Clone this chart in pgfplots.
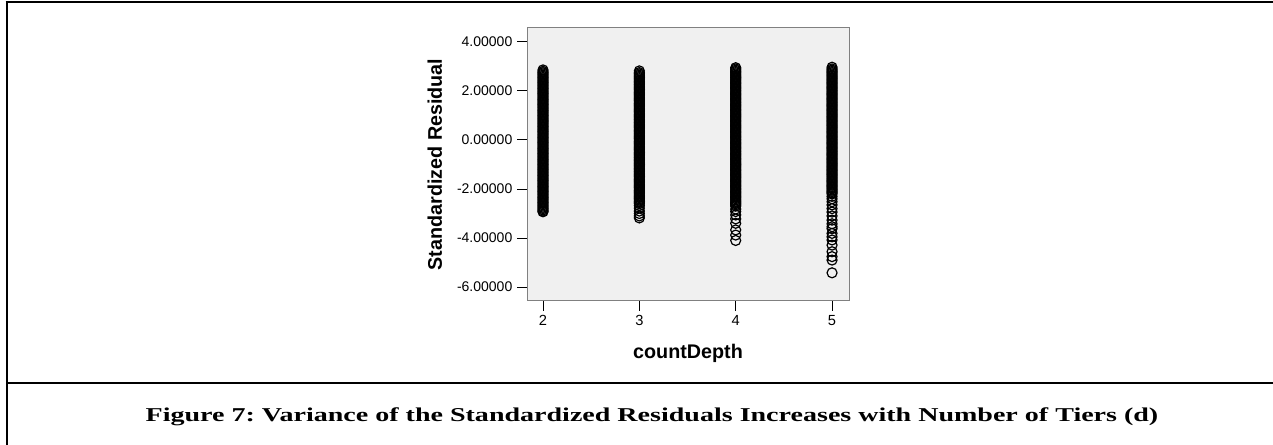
\documentclass[border=0pt]{standalone}
\usepackage{fontspec}
\setmainfont{Liberation Sans}
\newfontfamily\capfont{Liberation Serif}
\usepackage{graphicx}
\usepackage{pgfplots}
\pgfplotsset{compat=1.18}
\definecolor{bgc}{HTML}{F0F0F0}
\definecolor{framec}{HTML}{808080}
\begin{document}
\frenchspacing
\begin{tikzpicture}
\useasboundingbox (0,0) rectangle (954.75pt,333.75pt);
\draw[line width=1.5pt] (5pt,0) -- (5pt,332pt);
\draw[line width=1.5pt] (4.25pt,332pt) -- (954.75pt,332pt);
\draw[line width=1.5pt] (5pt,46.7pt) -- (954.75pt,46.7pt);
\node[anchor=base, font=\capfont\bfseries\fontsize{14.7}{17}\selectfont] at (489pt,17.25pt) {\scalebox{1.43}[1]{Figure 7: Variance of the Standardized Residuals Increases with Number of Tiers (d)}};
\begin{axis}[
  at={(395.25pt,108pt)}, anchor=south west,
  scale only axis, width=241.5pt, height=204.75pt,
  xmin=1.834, xmax=5.176, ymin=-6.57, ymax=4.57,
  axis background/.style={fill=bgc},
  axis line style={framec, line width=0.75pt},
  xtick={2,3,4,5}, xticklabels={2,3,4,5},
  ytick={-6,-4,-2,0,2,4},
  yticklabels={-6.00000,-4.00000,-2.00000,0.00000,2.00000,4.00000},
  tick align=outside, tick pos=left,
  major tick length=7.5pt,
  every tick/.style={black, line width=0.75pt},
  yticklabel style={font=\fontsize{10.5}{12}\selectfont},
  xticklabel style={font=\fontsize{11}{12}\selectfont},
  xlabel={countDepth}, ylabel={Standardized Residual},
  label style={font=\bfseries\fontsize{14.8}{17}\selectfont},
  xlabel style={at={(axis description cs:0.5,-0.209)}, anchor=base},
  ylabel style={at={(axis description cs:-0.264,0.5)}, anchor=base},
]
\addplot[only marks, mark=o, mark size=3.75pt, mark options={line width=0.9pt, black}] coordinates {
(2,-2.93)(2,-2.90)(2,-2.85)(2,-2.80)(2,-2.75)(2,-2.70)(2,-2.65)(2,-2.60)(2,-2.55)(2,-2.50)
(2,-2.45)(2,-2.40)(2,-2.35)(2,-2.30)(2,-2.25)(2,-2.20)(2,-2.15)(2,-2.10)(2,-2.05)(2,-2.00)
(2,-1.95)(2,-1.90)(2,-1.85)(2,-1.80)(2,-1.75)(2,-1.70)(2,-1.65)(2,-1.60)(2,-1.55)(2,-1.50)
(2,-1.45)(2,-1.40)(2,-1.35)(2,-1.30)(2,-1.25)(2,-1.20)(2,-1.15)(2,-1.10)(2,-1.05)(2,-1.00)
(2,-0.95)(2,-0.90)(2,-0.85)(2,-0.80)(2,-0.75)(2,-0.70)(2,-0.65)(2,-0.60)(2,-0.55)(2,-0.50)
(2,-0.45)(2,-0.40)(2,-0.35)(2,-0.30)(2,-0.25)(2,-0.20)(2,-0.15)(2,-0.10)(2,-0.05)(2,0.00)
(2,0.05)(2,0.10)(2,0.15)(2,0.20)(2,0.25)(2,0.30)(2,0.35)(2,0.40)(2,0.45)(2,0.50)
(2,0.55)(2,0.60)(2,0.65)(2,0.70)(2,0.75)(2,0.80)(2,0.85)(2,0.90)(2,0.95)(2,1.00)
(2,1.05)(2,1.10)(2,1.15)(2,1.20)(2,1.25)(2,1.30)(2,1.35)(2,1.40)(2,1.45)(2,1.50)
(2,1.55)(2,1.60)(2,1.65)(2,1.70)(2,1.75)(2,1.80)(2,1.85)(2,1.90)(2,1.95)(2,2.00)
(2,2.05)(2,2.10)(2,2.15)(2,2.20)(2,2.25)(2,2.30)(2,2.35)(2,2.40)(2,2.45)(2,2.50)
(2,2.55)(2,2.60)(2,2.65)(2,2.70)(2,2.75)(2,2.80)(2,2.86)
};
\addplot[only marks, mark=o, mark size=3.75pt, mark options={line width=0.9pt, black}] coordinates {
(3,-3.18)(3,-3.10)(3,-3.00)(3,-2.90)(3,-2.78)(3,-2.68)
(3,-2.60)(3,-2.55)(3,-2.50)
(3,-2.45)(3,-2.40)(3,-2.35)(3,-2.30)(3,-2.25)(3,-2.20)(3,-2.15)(3,-2.10)(3,-2.05)(3,-2.00)
(3,-1.95)(3,-1.90)(3,-1.85)(3,-1.80)(3,-1.75)(3,-1.70)(3,-1.65)(3,-1.60)(3,-1.55)(3,-1.50)
(3,-1.45)(3,-1.40)(3,-1.35)(3,-1.30)(3,-1.25)(3,-1.20)(3,-1.15)(3,-1.10)(3,-1.05)(3,-1.00)
(3,-0.95)(3,-0.90)(3,-0.85)(3,-0.80)(3,-0.75)(3,-0.70)(3,-0.65)(3,-0.60)(3,-0.55)(3,-0.50)
(3,-0.45)(3,-0.40)(3,-0.35)(3,-0.30)(3,-0.25)(3,-0.20)(3,-0.15)(3,-0.10)(3,-0.05)(3,0.00)
(3,0.05)(3,0.10)(3,0.15)(3,0.20)(3,0.25)(3,0.30)(3,0.35)(3,0.40)(3,0.45)(3,0.50)
(3,0.55)(3,0.60)(3,0.65)(3,0.70)(3,0.75)(3,0.80)(3,0.85)(3,0.90)(3,0.95)(3,1.00)
(3,1.05)(3,1.10)(3,1.15)(3,1.20)(3,1.25)(3,1.30)(3,1.35)(3,1.40)(3,1.45)(3,1.50)
(3,1.55)(3,1.60)(3,1.65)(3,1.70)(3,1.75)(3,1.80)(3,1.85)(3,1.90)(3,1.95)(3,2.00)
(3,2.05)(3,2.10)(3,2.15)(3,2.20)(3,2.25)(3,2.30)(3,2.35)(3,2.40)(3,2.45)(3,2.50)
(3,2.55)(3,2.60)(3,2.65)(3,2.70)(3,2.75)(3,2.82)
};
\addplot[only marks, mark=o, mark size=3.75pt, mark options={line width=0.9pt, black}] coordinates {
(4,-4.10)(4,-3.88)(4,-3.67)(4,-3.40)(4,-3.22)(4,-3.06)(4,-2.92)(4,-2.82)
(4,-2.70)(4,-2.65)(4,-2.60)(4,-2.55)(4,-2.50)
(4,-2.45)(4,-2.40)(4,-2.35)(4,-2.30)(4,-2.25)(4,-2.20)(4,-2.15)(4,-2.10)(4,-2.05)(4,-2.00)
(4,-1.95)(4,-1.90)(4,-1.85)(4,-1.80)(4,-1.75)(4,-1.70)(4,-1.65)(4,-1.60)(4,-1.55)(4,-1.50)
(4,-1.45)(4,-1.40)(4,-1.35)(4,-1.30)(4,-1.25)(4,-1.20)(4,-1.15)(4,-1.10)(4,-1.05)(4,-1.00)
(4,-0.95)(4,-0.90)(4,-0.85)(4,-0.80)(4,-0.75)(4,-0.70)(4,-0.65)(4,-0.60)(4,-0.55)(4,-0.50)
(4,-0.45)(4,-0.40)(4,-0.35)(4,-0.30)(4,-0.25)(4,-0.20)(4,-0.15)(4,-0.10)(4,-0.05)(4,0.00)
(4,0.05)(4,0.10)(4,0.15)(4,0.20)(4,0.25)(4,0.30)(4,0.35)(4,0.40)(4,0.45)(4,0.50)
(4,0.55)(4,0.60)(4,0.65)(4,0.70)(4,0.75)(4,0.80)(4,0.85)(4,0.90)(4,0.95)(4,1.00)
(4,1.05)(4,1.10)(4,1.15)(4,1.20)(4,1.25)(4,1.30)(4,1.35)(4,1.40)(4,1.45)(4,1.50)
(4,1.55)(4,1.60)(4,1.65)(4,1.70)(4,1.75)(4,1.80)(4,1.85)(4,1.90)(4,1.95)(4,2.00)
(4,2.05)(4,2.10)(4,2.15)(4,2.20)(4,2.25)(4,2.30)(4,2.35)(4,2.40)(4,2.45)(4,2.50)
(4,2.55)(4,2.60)(4,2.65)(4,2.70)(4,2.75)(4,2.80)(4,2.85)(4,2.90)(4,2.95)
};
\addplot[only marks, mark=o, mark size=3.75pt, mark options={line width=0.9pt, black}] coordinates {
(5,-5.42)(5,-4.90)(5,-4.76)(5,-4.56)(5,-4.29)(5,-4.08)(5,-3.95)(5,-3.81)(5,-3.62)(5,-3.54)
(5,-3.42)(5,-3.27)(5,-3.10)(5,-2.94)(5,-2.80)(5,-2.65)(5,-2.52)(5,-2.40)(5,-2.30)
(5,-2.20)(5,-2.15)(5,-2.10)(5,-2.05)(5,-2.00)
(5,-1.95)(5,-1.90)(5,-1.85)(5,-1.80)(5,-1.75)(5,-1.70)(5,-1.65)(5,-1.60)(5,-1.55)(5,-1.50)
(5,-1.45)(5,-1.40)(5,-1.35)(5,-1.30)(5,-1.25)(5,-1.20)(5,-1.15)(5,-1.10)(5,-1.05)(5,-1.00)
(5,-0.95)(5,-0.90)(5,-0.85)(5,-0.80)(5,-0.75)(5,-0.70)(5,-0.65)(5,-0.60)(5,-0.55)(5,-0.50)
(5,-0.45)(5,-0.40)(5,-0.35)(5,-0.30)(5,-0.25)(5,-0.20)(5,-0.15)(5,-0.10)(5,-0.05)(5,0.00)
(5,0.05)(5,0.10)(5,0.15)(5,0.20)(5,0.25)(5,0.30)(5,0.35)(5,0.40)(5,0.45)(5,0.50)
(5,0.55)(5,0.60)(5,0.65)(5,0.70)(5,0.75)(5,0.80)(5,0.85)(5,0.90)(5,0.95)(5,1.00)
(5,1.05)(5,1.10)(5,1.15)(5,1.20)(5,1.25)(5,1.30)(5,1.35)(5,1.40)(5,1.45)(5,1.50)
(5,1.55)(5,1.60)(5,1.65)(5,1.70)(5,1.75)(5,1.80)(5,1.85)(5,1.90)(5,1.95)(5,2.00)
(5,2.05)(5,2.10)(5,2.15)(5,2.20)(5,2.25)(5,2.30)(5,2.35)(5,2.40)(5,2.45)(5,2.50)
(5,2.55)(5,2.60)(5,2.65)(5,2.70)(5,2.75)(5,2.80)(5,2.85)(5,2.90)(5,2.97)
};
\end{axis}
\end{tikzpicture}
\end{document}
